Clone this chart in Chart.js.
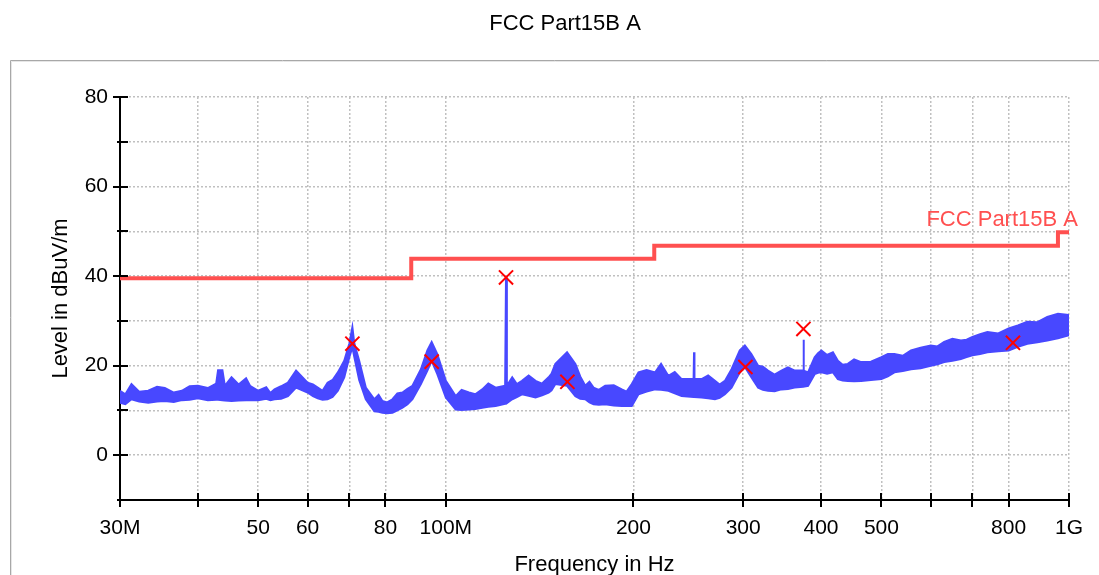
<!DOCTYPE html>
<html>
<head>
<meta charset="utf-8">
<script src="https://cdn.jsdelivr.net/npm/chart.js@4"></script>
<style>
  html, body { margin: 0; padding: 0; background: #fff; }
</style>
</head>
<body>
<canvas id="emc-chart" width="1099" height="575"></canvas>
<script>
// Titles
const chartTitle = 'FCC Part15B A';
const limitName = 'FCC Part15B A';

// X axis ticks (MHz) and their labels
const freqTicks = [30, 40, 50, 60, 70, 80, 100, 200, 300, 400, 500, 600, 700, 800, 1000];
const freqLabels = ['30M', '', '50', '60', '', '80', '100M', '200', '300', '400', '500', '', '', '800', '1G'];

// Y axis ticks (dBuV/m) and labels
const levelTicks = [-10, 0, 10, 20, 30, 40, 50, 60, 70, 80];
const levelLabels = ['', '0', '', '20', '', '40', '', '60', '', '80'];

// Limit line (stepped)
const limitFreq = [30, 88, 216, 960, 1000];
const limitLevel = [39.5, 43.9, 46.8, 49.8, 49.8];

// Measured trace: frequency (MHz), upper and lower edge of the noise band
const traceFreq = [
  30, 30.6, 31.3, 32.2, 33.3, 34.4, 35.4, 36.6, 37.7, 38.8,
  40, 41.5, 42.8, 43.1, 43.8, 44.2, 45.3, 46.5, 47.8, 48.5,
  50, 51.5, 52.3, 53.1, 54.4, 55.8, 57.5, 60, 61.2, 62.3,
  63.4, 64.6, 65.8, 67.1, 68.7, 70, 70.8, 71.3, 72.6, 74.4,
  76.8, 78, 79.1, 80.5, 82.1, 83.6, 85.2, 86.8, 88.4, 91.2,
  93.4, 94.9, 96.9, 100, 103.7, 106, 108.9, 111.5, 114.4, 117,
  120.2, 124.5, 124.9, 125.3, 127.8, 130, 132.5, 135.8, 139.3, 142.7,
  146.2, 147.8, 149.9, 156.5, 161.4, 164.3, 167.4, 170, 172.6, 176,
  180.2, 186, 191.6, 195, 198.8, 203.8, 210, 216.7, 221.5, 227.6,
  233, 239, 249.8, 250.2, 250.6, 257.3, 263.6, 270.3, 275, 280.4,
  287.4, 296.3, 301.9, 309.2, 317.1, 322.7, 328.8, 336.9, 345.6, 354,
  363, 374.5, 375, 375.5, 381.3, 390.7, 395.6, 400.6, 409, 418,
  425.7, 433.3, 441.6, 452, 463.9, 481, 500, 512, 524.6, 541,
  557.8, 578, 600, 615, 630.6, 650, 670.7, 685, 700, 720,
  739.8, 770, 800, 828, 857.4, 890, 922.9, 960, 1000
];
const traceUpper = [
  14.4, 13.6, 15.9, 14.2, 14.4, 15.3, 15.0, 14.0, 14.4, 15.4,
  15.5, 15.0, 16.0, 19.0, 19.0, 15.5, 17.4, 15.8, 17.2, 15.5,
  14.4, 15.2, 13.9, 14.7, 15.4, 16.2, 18.9, 16.2, 15.8, 15.1,
  14.4, 16.2, 16.8, 18.5, 21.1, 24.9, 28.6, 25.0, 21.1, 15.1,
  12.5, 13.5, 12.1, 11.8, 12.5, 13.8, 14.0, 14.8, 15.5, 19.2,
  23.4, 25.3, 22.6, 16.6, 13.2, 14.6, 14.0, 13.6, 14.7, 16.0,
  15.1, 15.5, 39.7, 15.5, 17.4, 15.9, 16.6, 17.8, 16.6, 16.0,
  17.4, 18.2, 20.4, 23.0, 20.4, 17.6, 15.5, 16.4, 15.1, 14.6,
  15.5, 15.6, 14.7, 14.2, 15.9, 18.5, 19.0, 18.5, 20.4, 17.7,
  18.6, 17.0, 17.0, 23.0, 17.0, 17.0, 17.8, 16.6, 15.8, 16.6,
  19.2, 23.4, 24.5, 22.6, 20.0, 19.8, 18.9, 18.0, 18.9, 19.6,
  18.9, 18.9, 25.8, 18.9, 18.5, 21.9, 22.8, 23.4, 22.4, 23.0,
  21.1, 20.2, 20.4, 21.4, 20.8, 20.9, 21.9, 22.6, 22.6, 22.2,
  23.4, 24.0, 24.5, 24.3, 25.3, 26.0, 25.6, 25.8, 26.4, 27.0,
  27.5, 27.2, 28.3, 29.0, 29.8, 29.7, 30.9, 31.6, 31.3
];
const traceLower = [
  11.7, 11.4, 12.5, 12.0, 11.7, 12.0, 12.1, 11.9, 12.3, 12.4,
  12.7, 12.3, 12.4, 12.4, 12.3, 12.2, 12.1, 12.2, 12.3, 12.3,
  12.3, 12.6, 12.3, 12.5, 12.6, 13.2, 15.1, 14.0, 13.2, 12.7,
  12.4, 12.5, 13.0, 14.4, 17.4, 21.9, 24.1, 22.0, 16.8, 12.5,
  9.8, 9.7, 9.5, 9.4, 9.5, 10.0, 10.6, 11.4, 12.5, 15.9,
  18.9, 21.1, 18.1, 12.9, 10.2, 10.1, 10.2, 10.3, 10.6, 10.8,
  11.0, 11.5, 11.5, 11.5, 12.5, 13.0, 13.6, 13.3, 12.9, 13.4,
  14.0, 14.5, 15.9, 15.5, 13.2, 12.6, 12.5, 11.8, 11.4, 11.3,
  11.4, 11.1, 11.0, 11.0, 11.0, 13.6, 14.2, 14.7, 14.6, 14.4,
  13.8, 13.2, 13.0, 13.0, 13.0, 12.9, 12.7, 12.5, 12.8, 13.6,
  15.1, 18.5, 19.7, 17.4, 15.1, 14.6, 14.4, 14.3, 14.7, 14.8,
  15.1, 15.3, 15.3, 15.3, 15.5, 18.1, 18.4, 18.5, 18.2, 18.5,
  17.0, 16.7, 16.6, 16.5, 16.6, 16.8, 17.0, 17.6, 18.5, 18.8,
  19.2, 19.4, 20.0, 20.3, 20.8, 21.1, 21.5, 21.9, 22.3, 22.6,
  23.0, 23.2, 23.4, 24.2, 24.9, 25.2, 25.6, 26.1, 26.8
];

// Final measurement markers
const markerFreq = [70.8, 94.9, 124.9, 156.7, 302.5, 374.8, 813];
const markerLevel = [24.9, 20.9, 39.7, 16.4, 19.7, 28.2, 25.1];

const fontFamily = '"Liberation Sans", Arial, sans-serif';
const traceColor = '#4848ff';
const limitColor = '#ff5050';
const gridColor = '#c0c0c0';

Chart.defaults.font.family = fontFamily;
Chart.defaults.color = '#000';

// background, frame and title
const framePlugin = {
  id: 'frame',
  beforeDraw(chart) {
    const ctx = chart.ctx;
    ctx.save();
    ctx.fillStyle = '#fff';
    ctx.fillRect(0, 0, chart.width, chart.height);
    ctx.lineWidth = 1;
    ctx.strokeStyle = '#a8a8a8';
    ctx.beginPath();
    ctx.moveTo(10.5, chart.height); ctx.lineTo(10.5, 60.5); ctx.lineTo(chart.width, 60.5);
    ctx.stroke();
    ctx.strokeStyle = '#e6e6e6';
    ctx.beginPath();
    ctx.moveTo(11.5, chart.height); ctx.lineTo(11.5, 61.5); ctx.lineTo(chart.width, 61.5);
    ctx.stroke();
    ctx.fillStyle = '#000';
    ctx.font = '22px ' + fontFamily;
    ctx.textAlign = 'center';
    ctx.textBaseline = 'middle';
    ctx.fillText(chartTitle, 565, 24);
    ctx.restore();
  }
};

// tick marks crossing the axes + limit label
const axisPlugin = {
  id: 'axisTicks',
  afterDraw(chart) {
    const ctx = chart.ctx;
    const xs = chart.scales.x, ys = chart.scales.y;
    const area = chart.chartArea;
    ctx.save();
    ctx.strokeStyle = '#000';
    ctx.lineWidth = 2;
    ctx.beginPath();
    freqTicks.forEach(v => {
      const px = Math.round(xs.getPixelForValue(v));
      ctx.moveTo(px, area.bottom - 7);
      ctx.lineTo(px, area.bottom + 7);
    });
    levelTicks.forEach((v, i) => {
      const py = Math.round(ys.getPixelForValue(v));
      ctx.moveTo(area.left - (levelLabels[i] ? 7 : 3), py);
      ctx.lineTo(area.left + 8, py);
    });
    ctx.stroke();

    const lx = xs.getPixelForValue(limitFreq[limitFreq.length - 1]);
    const ly = ys.getPixelForValue(limitLevel[limitLevel.length - 1]);
    ctx.fillStyle = limitColor;
    ctx.font = '22px ' + fontFamily;
    ctx.textAlign = 'right';
    ctx.textBaseline = 'alphabetic';
    ctx.fillText(limitName, lx + 9, ly - 6);
    ctx.restore();
  }
};

const toPoints = (xs, ys) => xs.map((x, i) => ({ x: x, y: ys[i] }));

new Chart(document.getElementById('emc-chart'), {
  type: 'line',
  data: {
    datasets: [
      {
        label: 'Final',
        data: toPoints(markerFreq, markerLevel),
        showLine: false,
        pointStyle: 'crossRot',
        pointRadius: 10,
        pointBorderWidth: 2,
        pointBorderColor: '#ff0000',
        order: 0
      },
      {
        label: limitName,
        data: toPoints(limitFreq, limitLevel),
        stepped: 'before',
        borderColor: limitColor,
        borderWidth: 4,
        pointRadius: 0,
        order: 1
      },
      {
        label: 'Peak max',
        data: toPoints(traceFreq, traceUpper),
        borderColor: traceColor,
        backgroundColor: traceColor,
        borderWidth: 2,
        pointRadius: 0,
        fill: 3,
        order: 2
      },
      {
        label: 'Peak min',
        data: toPoints(traceFreq, traceLower),
        borderColor: traceColor,
        borderWidth: 2,
        pointRadius: 0,
        fill: false,
        order: 3
      }
    ]
  },
  options: {
    responsive: false,
    animation: false,
    devicePixelRatio: 1,
    layout: { padding: { top: 97, right: 27, left: 0, bottom: 0 } },
    plugins: {
      legend: { display: false },
      tooltip: { enabled: false },
      title: { display: false }
    },
    scales: {
      x: {
        type: 'logarithmic',
        min: 30,
        max: 1000,
        afterBuildTicks: s => { s.ticks = freqTicks.map(v => ({ value: v })); },
        afterFit: s => { s.height = 75; },
        ticks: {
          autoSkip: false,
          maxRotation: 0,
          padding: 16,
          color: '#000',
          font: { size: 21 },
          callback: (v, i) => freqLabels[i]
        },
        grid: { color: gridColor, lineWidth: 1.5, drawTicks: false },
        border: { color: '#000', width: 2, dash: [2, 2] },
        title: {
          display: true,
          text: 'Frequency in Hz',
          color: '#000',
          font: { size: 22, lineHeight: 0.9 },
          padding: 0
        }
      },
      y: {
        min: -10,
        max: 80,
        afterBuildTicks: s => { s.ticks = levelTicks.map(v => ({ value: v })); },
        afterFit: s => { s.width = 120; },
        ticks: {
          padding: 12,
          color: '#000',
          font: { size: 21 },
          callback: (v, i) => levelLabels[i]
        },
        grid: { color: gridColor, lineWidth: 1.5, drawTicks: false },
        border: { color: '#000', width: 2, dash: [2, 2] },
        title: {
          display: true,
          text: 'Level in dBuV/m',
          color: '#000',
          font: { size: 22 },
          padding: { top: 48, bottom: 0 }
        }
      }
    }
  },
  plugins: [framePlugin, axisPlugin]
});
</script>
</body>
</html>
